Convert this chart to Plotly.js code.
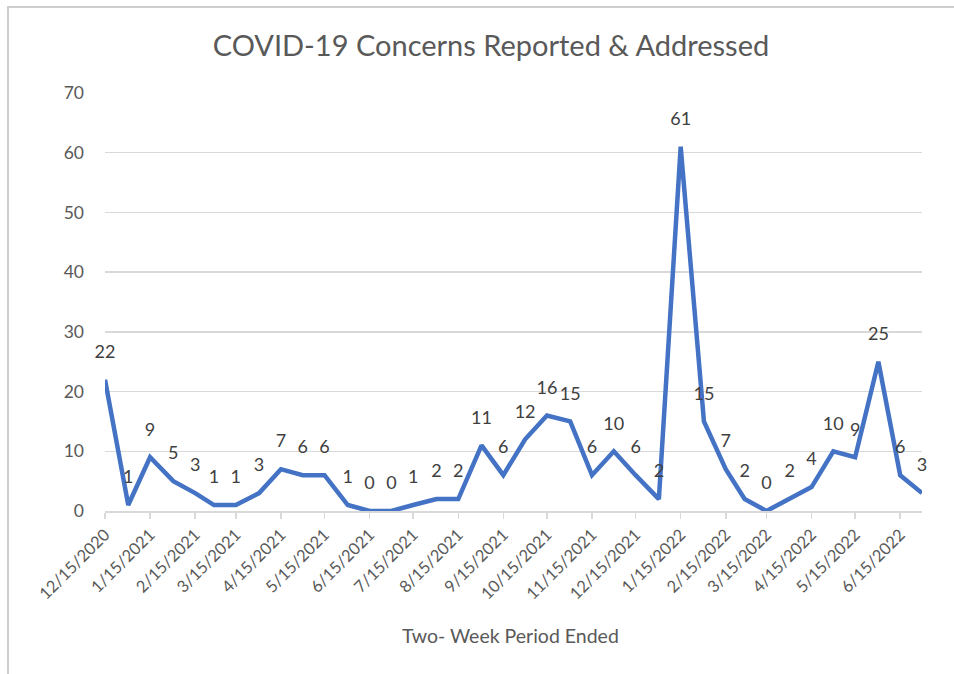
<!DOCTYPE html>
<html>
<head>
<meta charset="utf-8">
<script src="https://cdn.plot.ly/plotly-3.0.1.min.js"></script>
<style>
  html, body { margin: 0; padding: 0; background: #ffffff; }
  #frame { position: absolute; left: 7px; top: 6px; width: 945px; height: 666px;
           border-left: 2px solid #cdcdcd; border-top: 2px solid #cdcdcd; }
  #chart { width: 945px; height: 666px; }
</style>
</head>
<body>
<div id="frame"><div id="chart"></div></div>
<script>
// Period end dates (two-week periods)
const periodEnded = [
  '2020-12-15','2020-12-31',
  '2021-01-15','2021-01-31','2021-02-15','2021-02-28','2021-03-15','2021-03-31',
  '2021-04-15','2021-04-30','2021-05-15','2021-05-31','2021-06-15','2021-06-30',
  '2021-07-15','2021-07-31','2021-08-15','2021-08-31','2021-09-15','2021-09-30',
  '2021-10-15','2021-10-31','2021-11-15','2021-11-30','2021-12-15','2021-12-31',
  '2022-01-15','2022-01-31','2022-02-15','2022-02-28','2022-03-15','2022-03-31',
  '2022-04-15','2022-04-30','2022-05-15','2022-05-31','2022-06-15','2022-06-30'
];
const concerns = [22,1,9,5,3,1,1,3,7,6,6,1,0,0,1,2,2,11,6,12,16,15,6,10,6,2,61,15,7,2,0,2,4,10,9,25,6,3];

const tickDates = ['2020-12-15','2021-01-15','2021-02-15','2021-03-15','2021-04-15','2021-05-15',
  '2021-06-15','2021-07-15','2021-08-15','2021-09-15','2021-10-15','2021-11-15','2021-12-15',
  '2022-01-15','2022-02-15','2022-03-15','2022-04-15','2022-05-15','2022-06-15'];
const tickLabels = ['12/15/2020','1/15/2021','2/15/2021','3/15/2021','4/15/2021','5/15/2021',
  '6/15/2021','7/15/2021','8/15/2021','9/15/2021','10/15/2021','11/15/2021','12/15/2021',
  '1/15/2022','2/15/2022','3/15/2022','4/15/2022','5/15/2022','6/15/2022'];

const chartTitle = 'COVID-19 Concerns Reported &amp; Addressed';
const xTitle = 'Two- Week Period Ended';

const FONT = 'Lato, "Open Sans", "DejaVu Sans", sans-serif';

const trace = {
  x: periodEnded,
  y: concerns,
  type: 'scatter',
  mode: 'lines+markers+text',
  line: { color: '#4472C4', width: 4.5 },
  marker: { size: 26, opacity: 0, color: '#4472C4' },
  text: concerns.map(String),
  textposition: 'top center',
  textfont: { family: FONT, size: 18, color: '#404040' },
  cliponaxis: false,
  hoverinfo: 'x+y'
};

const layout = {
  width: 945,
  height: 666,
  margin: { l: 96, r: 32, t: 85, b: 163 },
  paper_bgcolor: '#ffffff',
  plot_bgcolor: '#ffffff',
  showlegend: false,
  font: { family: FONT, color: '#595959' },
  title: {
    text: chartTitle,
    font: { family: FONT, size: 29, color: '#595959' },
    x: 0.51, xref: 'container', xanchor: 'center',
    y: 0.943, yref: 'container', yanchor: 'middle'
  },
  xaxis: {
    type: 'date',
    range: ['2020-12-15', '2022-06-30'],
    tickvals: tickDates,
    ticktext: tickLabels,
    tickangle: -45,
    tickfont: { family: FONT, size: 16.5, color: '#595959' },
    showgrid: false,
    zeroline: false,
    showline: true,
    linecolor: '#d9d9d9',
    linewidth: 1.5,
    ticks: 'outside',
    ticklen: 6,
    tickcolor: '#d9d9d9',
    tickwidth: 1.5,
    fixedrange: true
  },
  yaxis: {
    range: [0, 70],
    dtick: 10,
    tick0: 0,
    showgrid: true,
    gridcolor: '#d9d9d9',
    gridwidth: 1.5,
    zeroline: false,
    showline: false,
    ticks: '',
    ticklabelstandoff: 20,
    tickfont: { family: FONT, size: 17.5, color: '#595959' },
    fixedrange: true
  },
  annotations: [{
    text: xTitle,
    xref: 'paper', yref: 'paper',
    x: 0.496, y: -0.297,
    xanchor: 'center', yanchor: 'middle',
    showarrow: false,
    font: { family: FONT, size: 19.5, color: '#595959' }
  }]
};

Plotly.newPlot('chart', [trace], layout, { displayModeBar: false, staticPlot: true });
</script>
</body>
</html>
